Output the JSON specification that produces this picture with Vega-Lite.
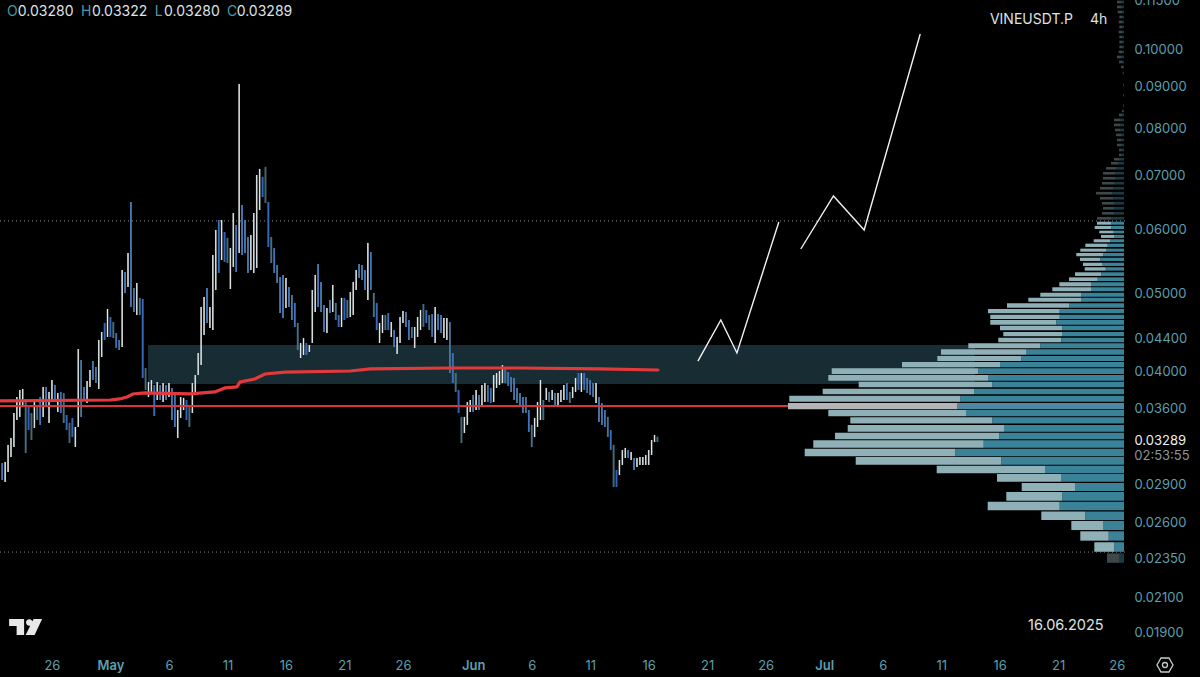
{
"$schema":"https://vega.github.io/schema/vega-lite/v6.json",
"autosize":{"type":"none"},
"padding":{"left":0,"top":0,"right":75,"bottom":29},
"width":1125,
"height":648,
"background":"#000000",
"config":{"view":{"stroke":null},"text":{"font":"Inter"}},
"datasets":{"candles":[
{"t":"2025-04-21T18:00Z","p":0.03083,"p2":0.02937,"d":"d"},
{"t":"2025-04-22T00:00Z","p":0.03092,"p2":0.02921,"d":"u"},
{"t":"2025-04-22T06:00Z","p":0.03246,"p2":0.03005,"d":"u"},
{"t":"2025-04-22T12:00Z","p":0.03311,"p2":0.03136,"d":"u"},
{"t":"2025-04-22T18:00Z","p":0.03555,"p2":0.03227,"d":"u"},
{"t":"2025-04-23T00:00Z","p":0.03721,"p2":0.03485,"d":"u"},
{"t":"2025-04-23T06:00Z","p":0.03796,"p2":0.03515,"d":"u"},
{"t":"2025-04-23T12:00Z","p":0.03807,"p2":0.03616,"d":"u"},
{"t":"2025-04-23T18:00Z","p":0.03689,"p2":0.03172,"d":"d"},
{"t":"2025-04-24T00:00Z","p":0.03616,"p2":0.03387,"d":"d"},
{"t":"2025-04-24T06:00Z","p":0.03555,"p2":0.03292,"d":"d"},
{"t":"2025-04-24T12:00Z","p":0.03668,"p2":0.03407,"d":"u"},
{"t":"2025-04-24T18:00Z","p":0.03616,"p2":0.03485,"d":"d"},
{"t":"2025-04-25T00:00Z","p":0.03721,"p2":0.03436,"d":"d"},
{"t":"2025-04-25T06:00Z","p":0.03829,"p2":0.03515,"d":"u"},
{"t":"2025-04-25T12:00Z","p":0.03829,"p2":0.03616,"d":"d"},
{"t":"2025-04-25T18:00Z","p":0.03775,"p2":0.03456,"d":"u"},
{"t":"2025-04-26T00:00Z","p":0.03905,"p2":0.03689,"d":"u"},
{"t":"2025-04-26T06:00Z","p":0.0385,"p2":0.03668,"d":"d"},
{"t":"2025-04-26T12:00Z","p":0.03764,"p2":0.03565,"d":"u"},
{"t":"2025-04-26T18:00Z","p":0.03775,"p2":0.03555,"d":"d"},
{"t":"2025-04-27T00:00Z","p":0.03764,"p2":0.03456,"d":"d"},
{"t":"2025-04-27T06:00Z","p":0.03535,"p2":0.03387,"d":"d"},
{"t":"2025-04-27T12:00Z","p":0.03456,"p2":0.03264,"d":"d"},
{"t":"2025-04-27T18:00Z","p":0.03505,"p2":0.0332,"d":"d"},
{"t":"2025-04-28T00:00Z","p":0.03416,"p2":0.03227,"d":"u"},
{"t":"2025-04-28T06:00Z","p":0.04266,"p2":0.03416,"d":"u"},
{"t":"2025-04-28T12:00Z","p":0.04134,"p2":0.03515,"d":"d"},
{"t":"2025-04-28T18:00Z","p":0.03829,"p2":0.03689,"d":"d"},
{"t":"2025-04-29T00:00Z","p":0.03894,"p2":0.03658,"d":"u"},
{"t":"2025-04-29T06:00Z","p":0.04018,"p2":0.03829,"d":"u"},
{"t":"2025-04-29T12:00Z","p":0.04122,"p2":0.03905,"d":"d"},
{"t":"2025-04-29T18:00Z","p":0.04053,"p2":0.03872,"d":"d"},
{"t":"2025-04-30T00:00Z","p":0.04377,"p2":0.03807,"d":"u"},
{"t":"2025-04-30T06:00Z","p":0.04478,"p2":0.0417,"d":"u"},
{"t":"2025-04-30T12:00Z","p":0.04594,"p2":0.04377,"d":"d"},
{"t":"2025-04-30T18:00Z","p":0.04781,"p2":0.04415,"d":"u"},
{"t":"2025-05-01T00:00Z","p":0.04673,"p2":0.04415,"d":"d"},
{"t":"2025-05-01T06:00Z","p":0.04607,"p2":0.04402,"d":"d"},
{"t":"2025-05-01T12:00Z","p":0.04465,"p2":0.04279,"d":"d"},
{"t":"2025-05-01T18:00Z","p":0.04377,"p2":0.04254,"d":"d"},
{"t":"2025-05-02T00:00Z","p":0.05343,"p2":0.04291,"d":"u"},
{"t":"2025-05-02T06:00Z","p":0.05313,"p2":0.05005,"d":"d"},
{"t":"2025-05-02T12:00Z","p":0.05608,"p2":0.05091,"d":"u"},
{"t":"2025-05-02T18:00Z","p":0.06485,"p2":0.04808,"d":"d"},
{"t":"2025-05-03T00:00Z","p":0.05076,"p2":0.0474,"d":"d"},
{"t":"2025-05-03T06:00Z","p":0.05149,"p2":0.047,"d":"u"},
{"t":"2025-05-03T12:00Z","p":0.04934,"p2":0.047,"d":"d"},
{"t":"2025-05-03T18:00Z","p":0.04919,"p2":0.03928,"d":"d"},
{"t":"2025-05-04T00:00Z","p":0.04041,"p2":0.03796,"d":"d"},
{"t":"2025-05-04T06:00Z","p":0.03883,"p2":0.03721,"d":"u"},
{"t":"2025-05-04T12:00Z","p":0.03905,"p2":0.03775,"d":"u"},
{"t":"2025-05-04T18:00Z","p":0.0385,"p2":0.03525,"d":"d"},
{"t":"2025-05-05T00:00Z","p":0.03883,"p2":0.03689,"d":"u"},
{"t":"2025-05-05T06:00Z","p":0.0385,"p2":0.03689,"d":"d"},
{"t":"2025-05-05T12:00Z","p":0.03872,"p2":0.03668,"d":"u"},
{"t":"2025-05-05T18:00Z","p":0.0385,"p2":0.03689,"d":"d"},
{"t":"2025-05-06T00:00Z","p":0.03872,"p2":0.03721,"d":"u"},
{"t":"2025-05-06T06:00Z","p":0.03818,"p2":0.03485,"d":"d"},
{"t":"2025-05-06T12:00Z","p":0.03743,"p2":0.03416,"d":"d"},
{"t":"2025-05-06T18:00Z","p":0.03585,"p2":0.03311,"d":"u"},
{"t":"2025-05-07T00:00Z","p":0.03721,"p2":0.03505,"d":"u"},
{"t":"2025-05-07T06:00Z","p":0.03711,"p2":0.03585,"d":"u"},
{"t":"2025-05-07T12:00Z","p":0.03689,"p2":0.03485,"d":"d"},
{"t":"2025-05-07T18:00Z","p":0.03637,"p2":0.03416,"d":"d"},
{"t":"2025-05-08T00:00Z","p":0.03872,"p2":0.03555,"d":"u"},
{"t":"2025-05-08T06:00Z","p":0.03961,"p2":0.03764,"d":"u"},
{"t":"2025-05-08T12:00Z","p":0.04218,"p2":0.03961,"d":"u"},
{"t":"2025-05-08T18:00Z","p":0.04808,"p2":0.04076,"d":"u"},
{"t":"2025-05-09T00:00Z","p":0.04948,"p2":0.0444,"d":"u"},
{"t":"2025-05-09T06:00Z","p":0.05076,"p2":0.04594,"d":"d"},
{"t":"2025-05-09T12:00Z","p":0.04808,"p2":0.04529,"d":"u"},
{"t":"2025-05-09T18:00Z","p":0.05576,"p2":0.04503,"d":"u"},
{"t":"2025-05-10T00:00Z","p":0.05988,"p2":0.05047,"d":"u"},
{"t":"2025-05-10T06:00Z","p":0.06161,"p2":0.05298,"d":"d"},
{"t":"2025-05-10T12:00Z","p":0.06161,"p2":0.05497,"d":"u"},
{"t":"2025-05-10T18:00Z","p":0.05954,"p2":0.05466,"d":"d"},
{"t":"2025-05-11T00:00Z","p":0.05854,"p2":0.05451,"d":"d"},
{"t":"2025-05-11T06:00Z","p":0.05689,"p2":0.05061,"d":"u"},
{"t":"2025-05-11T12:00Z","p":0.06285,"p2":0.05389,"d":"u"},
{"t":"2025-05-11T18:00Z","p":0.06074,"p2":0.05313,"d":"d"},
{"t":"2025-05-12T00:00Z","p":0.09078,"p2":0.05608,"d":"u"},
{"t":"2025-05-12T06:00Z","p":0.0643,"p2":0.05576,"d":"d"},
{"t":"2025-05-12T12:00Z","p":0.06161,"p2":0.05608,"d":"d"},
{"t":"2025-05-12T18:00Z","p":0.0587,"p2":0.05298,"d":"d"},
{"t":"2025-05-13T00:00Z","p":0.05904,"p2":0.05343,"d":"u"},
{"t":"2025-05-13T06:00Z","p":0.06285,"p2":0.05298,"d":"u"},
{"t":"2025-05-13T12:00Z","p":0.07004,"p2":0.05374,"d":"u"},
{"t":"2025-05-13T18:00Z","p":0.07125,"p2":0.06339,"d":"u"},
{"t":"2025-05-14T00:00Z","p":0.06965,"p2":0.06579,"d":"d"},
{"t":"2025-05-14T06:00Z","p":0.07166,"p2":0.06467,"d":"d"},
{"t":"2025-05-14T12:00Z","p":0.06485,"p2":0.05705,"d":"d"},
{"t":"2025-05-14T18:00Z","p":0.0587,"p2":0.05451,"d":"d"},
{"t":"2025-05-15T00:00Z","p":0.05689,"p2":0.05298,"d":"d"},
{"t":"2025-05-15T06:00Z","p":0.0542,"p2":0.05149,"d":"d"},
{"t":"2025-05-15T12:00Z","p":0.05238,"p2":0.04727,"d":"d"},
{"t":"2025-05-15T18:00Z","p":0.05268,"p2":0.0466,"d":"d"},
{"t":"2025-05-16T00:00Z","p":0.05223,"p2":0.04795,"d":"u"},
{"t":"2025-05-16T06:00Z","p":0.05091,"p2":0.04808,"d":"d"},
{"t":"2025-05-16T12:00Z","p":0.04976,"p2":0.04633,"d":"d"},
{"t":"2025-05-16T18:00Z","p":0.04864,"p2":0.04542,"d":"d"},
{"t":"2025-05-17T00:00Z","p":0.04594,"p2":0.04254,"d":"d"},
{"t":"2025-05-17T06:00Z","p":0.0434,"p2":0.04158,"d":"u"},
{"t":"2025-05-17T12:00Z","p":0.04402,"p2":0.04194,"d":"u"},
{"t":"2025-05-17T18:00Z","p":0.0434,"p2":0.04194,"d":"d"},
{"t":"2025-05-18T00:00Z","p":0.04315,"p2":0.0423,"d":"u"},
{"t":"2025-05-18T06:00Z","p":0.05047,"p2":0.0434,"d":"u"},
{"t":"2025-05-18T12:00Z","p":0.05268,"p2":0.0474,"d":"u"},
{"t":"2025-05-18T18:00Z","p":0.05435,"p2":0.04808,"d":"d"},
{"t":"2025-05-19T00:00Z","p":0.05164,"p2":0.0474,"d":"d"},
{"t":"2025-05-19T06:00Z","p":0.04836,"p2":0.04478,"d":"d"},
{"t":"2025-05-19T12:00Z","p":0.04795,"p2":0.04465,"d":"u"},
{"t":"2025-05-19T18:00Z","p":0.04905,"p2":0.04727,"d":"d"},
{"t":"2025-05-20T00:00Z","p":0.0512,"p2":0.0474,"d":"u"},
{"t":"2025-05-20T06:00Z","p":0.04864,"p2":0.04633,"d":"d"},
{"t":"2025-05-20T12:00Z","p":0.047,"p2":0.04542,"d":"d"},
{"t":"2025-05-20T18:00Z","p":0.04934,"p2":0.04542,"d":"u"},
{"t":"2025-05-21T00:00Z","p":0.04934,"p2":0.04633,"d":"d"},
{"t":"2025-05-21T06:00Z","p":0.04905,"p2":0.0466,"d":"d"},
{"t":"2025-05-21T12:00Z","p":0.05019,"p2":0.04673,"d":"u"},
{"t":"2025-05-21T18:00Z","p":0.05164,"p2":0.047,"d":"u"},
{"t":"2025-05-22T00:00Z","p":0.05343,"p2":0.05047,"d":"u"},
{"t":"2025-05-22T06:00Z","p":0.05435,"p2":0.05223,"d":"d"},
{"t":"2025-05-22T12:00Z","p":0.0542,"p2":0.05193,"d":"d"},
{"t":"2025-05-22T18:00Z","p":0.05343,"p2":0.05047,"d":"d"},
{"t":"2025-05-23T00:00Z","p":0.05771,"p2":0.04905,"d":"u"},
{"t":"2025-05-23T06:00Z","p":0.05624,"p2":0.05047,"d":"d"},
{"t":"2025-05-23T12:00Z","p":0.05005,"p2":0.04673,"d":"d"},
{"t":"2025-05-23T18:00Z","p":0.04864,"p2":0.04503,"d":"d"},
{"t":"2025-05-24T00:00Z","p":0.04594,"p2":0.0434,"d":"u"},
{"t":"2025-05-24T06:00Z","p":0.047,"p2":0.04465,"d":"u"},
{"t":"2025-05-24T12:00Z","p":0.047,"p2":0.04503,"d":"d"},
{"t":"2025-05-24T18:00Z","p":0.04727,"p2":0.04503,"d":"d"},
{"t":"2025-05-25T00:00Z","p":0.04607,"p2":0.04415,"d":"u"},
{"t":"2025-05-25T06:00Z","p":0.04503,"p2":0.04291,"d":"d"},
{"t":"2025-05-25T12:00Z","p":0.04415,"p2":0.04206,"d":"u"},
{"t":"2025-05-25T18:00Z","p":0.04673,"p2":0.0434,"d":"u"},
{"t":"2025-05-26T00:00Z","p":0.04754,"p2":0.04594,"d":"u"},
{"t":"2025-05-26T06:00Z","p":0.0474,"p2":0.04542,"d":"d"},
{"t":"2025-05-26T12:00Z","p":0.04633,"p2":0.04377,"d":"d"},
{"t":"2025-05-26T18:00Z","p":0.04542,"p2":0.04402,"d":"d"},
{"t":"2025-05-27T00:00Z","p":0.04542,"p2":0.04279,"d":"u"},
{"t":"2025-05-27T06:00Z","p":0.04673,"p2":0.04415,"d":"u"},
{"t":"2025-05-27T12:00Z","p":0.04767,"p2":0.04503,"d":"u"},
{"t":"2025-05-27T18:00Z","p":0.0485,"p2":0.04542,"d":"d"},
{"t":"2025-05-28T00:00Z","p":0.04767,"p2":0.04594,"d":"d"},
{"t":"2025-05-28T06:00Z","p":0.047,"p2":0.04503,"d":"d"},
{"t":"2025-05-28T12:00Z","p":0.04713,"p2":0.04415,"d":"d"},
{"t":"2025-05-28T18:00Z","p":0.04808,"p2":0.0434,"d":"u"},
{"t":"2025-05-29T00:00Z","p":0.04713,"p2":0.04503,"d":"d"},
{"t":"2025-05-29T06:00Z","p":0.047,"p2":0.04465,"d":"d"},
{"t":"2025-05-29T12:00Z","p":0.0466,"p2":0.04402,"d":"u"},
{"t":"2025-05-29T18:00Z","p":0.0466,"p2":0.04377,"d":"u"},
{"t":"2025-05-30T00:00Z","p":0.04607,"p2":0.03984,"d":"d"},
{"t":"2025-05-30T06:00Z","p":0.04218,"p2":0.03872,"d":"d"},
{"t":"2025-05-30T12:00Z","p":0.03984,"p2":0.03775,"d":"d"},
{"t":"2025-05-30T18:00Z","p":0.03796,"p2":0.03555,"d":"d"},
{"t":"2025-05-31T00:00Z","p":0.03515,"p2":0.03264,"d":"d"},
{"t":"2025-05-31T06:00Z","p":0.03515,"p2":0.03358,"d":"u"},
{"t":"2025-05-31T12:00Z","p":0.03668,"p2":0.03436,"d":"u"},
{"t":"2025-05-31T18:00Z","p":0.03689,"p2":0.03565,"d":"u"},
{"t":"2025-06-01T00:00Z","p":0.03743,"p2":0.03565,"d":"d"},
{"t":"2025-06-01T06:00Z","p":0.03796,"p2":0.03585,"d":"u"},
{"t":"2025-06-01T12:00Z","p":0.03743,"p2":0.03585,"d":"d"},
{"t":"2025-06-01T18:00Z","p":0.0385,"p2":0.03637,"d":"u"},
{"t":"2025-06-02T00:00Z","p":0.03872,"p2":0.03668,"d":"u"},
{"t":"2025-06-02T06:00Z","p":0.0385,"p2":0.03668,"d":"d"},
{"t":"2025-06-02T12:00Z","p":0.03818,"p2":0.03658,"d":"d"},
{"t":"2025-06-02T18:00Z","p":0.03961,"p2":0.03668,"d":"u"},
{"t":"2025-06-03T00:00Z","p":0.03984,"p2":0.03818,"d":"u"},
{"t":"2025-06-03T06:00Z","p":0.04007,"p2":0.0385,"d":"u"},
{"t":"2025-06-03T12:00Z","p":0.04076,"p2":0.03872,"d":"u"},
{"t":"2025-06-03T18:00Z","p":0.04041,"p2":0.03872,"d":"d"},
{"t":"2025-06-04T00:00Z","p":0.03995,"p2":0.0384,"d":"d"},
{"t":"2025-06-04T06:00Z","p":0.03939,"p2":0.03775,"d":"d"},
{"t":"2025-06-04T12:00Z","p":0.03928,"p2":0.03689,"d":"d"},
{"t":"2025-06-04T18:00Z","p":0.03818,"p2":0.03658,"d":"d"},
{"t":"2025-06-05T00:00Z","p":0.03764,"p2":0.03637,"d":"d"},
{"t":"2025-06-05T06:00Z","p":0.03721,"p2":0.03555,"d":"d"},
{"t":"2025-06-05T12:00Z","p":0.03721,"p2":0.03555,"d":"d"},
{"t":"2025-06-05T18:00Z","p":0.03585,"p2":0.03368,"d":"d"},
{"t":"2025-06-06T00:00Z","p":0.03436,"p2":0.03227,"d":"d"},
{"t":"2025-06-06T06:00Z","p":0.03505,"p2":0.0332,"d":"u"},
{"t":"2025-06-06T12:00Z","p":0.03668,"p2":0.03416,"d":"u"},
{"t":"2025-06-06T18:00Z","p":0.03905,"p2":0.03485,"d":"u"},
{"t":"2025-06-07T00:00Z","p":0.03689,"p2":0.03485,"d":"d"},
{"t":"2025-06-07T06:00Z","p":0.03818,"p2":0.03689,"d":"u"},
{"t":"2025-06-07T12:00Z","p":0.03775,"p2":0.03668,"d":"d"},
{"t":"2025-06-07T18:00Z","p":0.03796,"p2":0.03689,"d":"u"},
{"t":"2025-06-08T00:00Z","p":0.03764,"p2":0.03637,"d":"d"},
{"t":"2025-06-08T06:00Z","p":0.03764,"p2":0.03637,"d":"u"},
{"t":"2025-06-08T12:00Z","p":0.03796,"p2":0.03668,"d":"u"},
{"t":"2025-06-08T18:00Z","p":0.0385,"p2":0.03689,"d":"u"},
{"t":"2025-06-09T00:00Z","p":0.03872,"p2":0.03689,"d":"d"},
{"t":"2025-06-09T06:00Z","p":0.03775,"p2":0.03658,"d":"d"},
{"t":"2025-06-09T12:00Z","p":0.03829,"p2":0.03711,"d":"u"},
{"t":"2025-06-09T18:00Z","p":0.03928,"p2":0.03775,"d":"u"},
{"t":"2025-06-10T00:00Z","p":0.03984,"p2":0.03796,"d":"d"},
{"t":"2025-06-10T06:00Z","p":0.03984,"p2":0.03775,"d":"u"},
{"t":"2025-06-10T12:00Z","p":0.03984,"p2":0.03796,"d":"d"},
{"t":"2025-06-10T18:00Z","p":0.03928,"p2":0.03764,"d":"d"},
{"t":"2025-06-11T00:00Z","p":0.03905,"p2":0.03743,"d":"d"},
{"t":"2025-06-11T06:00Z","p":0.03872,"p2":0.03721,"d":"d"},
{"t":"2025-06-11T12:00Z","p":0.03872,"p2":0.03658,"d":"u"},
{"t":"2025-06-11T18:00Z","p":0.03721,"p2":0.03465,"d":"d"},
{"t":"2025-06-12T00:00Z","p":0.03658,"p2":0.03436,"d":"d"},
{"t":"2025-06-12T06:00Z","p":0.03585,"p2":0.03416,"d":"d"},
{"t":"2025-06-12T12:00Z","p":0.03515,"p2":0.0332,"d":"d"},
{"t":"2025-06-12T18:00Z","p":0.03387,"p2":0.03199,"d":"d"},
{"t":"2025-06-13T00:00Z","p":0.03246,"p2":0.0288,"d":"d"},
{"t":"2025-06-13T06:00Z","p":0.03022,"p2":0.0288,"d":"d"},
{"t":"2025-06-13T12:00Z","p":0.03109,"p2":0.02979,"d":"u"},
{"t":"2025-06-13T18:00Z","p":0.03199,"p2":0.03066,"d":"u"},
{"t":"2025-06-14T00:00Z","p":0.03218,"p2":0.03127,"d":"u"},
{"t":"2025-06-14T06:00Z","p":0.03199,"p2":0.03127,"d":"d"},
{"t":"2025-06-14T12:00Z","p":0.03181,"p2":0.03109,"d":"u"},
{"t":"2025-06-14T18:00Z","p":0.03127,"p2":0.03022,"d":"d"},
{"t":"2025-06-15T00:00Z","p":0.03127,"p2":0.03048,"d":"u"},
{"t":"2025-06-15T06:00Z","p":0.03136,"p2":0.03066,"d":"u"},
{"t":"2025-06-15T12:00Z","p":0.03136,"p2":0.03066,"d":"u"},
{"t":"2025-06-15T18:00Z","p":0.03154,"p2":0.03066,"d":"u"},
{"t":"2025-06-16T00:00Z","p":0.03199,"p2":0.03066,"d":"u"},
{"t":"2025-06-16T06:00Z","p":0.03292,"p2":0.03154,"d":"u"},
{"t":"2025-06-16T12:00Z","p":0.03339,"p2":0.03273,"d":"u"},
{"t":"2025-06-16T18:00Z","p":0.03322,"p2":0.03273,"d":"d"}
]},
"resolve":{"scale":{"x":"independent"}},
"encoding":{"y":{"field":"p","type":"quantitative","scale":{"type":"log","nice":false,"zero":false,"domain":[0.0182,0.1153]},
"axis":{"title":null,"orient":"right","grid":false,"domain":false,"ticks":false,"labelPadding":9,"format":".5f","labelFont":"Inter","labelFontSize":13,"labelOverlap":false,"labelFlush":false,"labelBound":false,
"labelColor":{"condition":{"test":"datum.value==0.03289","value":"#f0f0f0"},"value":"#5d9fae"},
"values":[0.115,0.1,0.09,0.08,0.07,0.06,0.05,0.044,0.04,0.036,0.03289,0.029,0.026,0.0235,0.021,0.019]}}},
"layer":[
{
"encoding":{"x":{"field":"t","type":"temporal","scale":{"type":"utc","nice":false,"domain":[{"year":2025,"month":"apr","date":21,"hours":13,"minutes":27,"utc":true},{"year":2025,"month":"jul","date":26,"hours":17,"utc":true}]},
"axis":{"title":null,"orient":"bottom","grid":false,"domain":false,"ticks":false,"labelPadding":11,"labelFont":"Inter","labelFontSize":13,"labelColor":"#5d9fae","labelOverlap":false,"labelFlush":false,"labelBound":false,
"labelFontWeight":{"condition":{"test":"utcdate(datum.value)===1","value":600},"value":400},
"labelExpr":"utcdate(datum.value)===1?utcFormat(datum.value,'%b'):utcFormat(datum.value,'%-d')",
"values":[
{"year":2025,"month":"apr","date":26,"utc":true},{"year":2025,"month":"may","date":1,"utc":true},{"year":2025,"month":"may","date":6,"utc":true},{"year":2025,"month":"may","date":11,"utc":true},{"year":2025,"month":"may","date":16,"utc":true},{"year":2025,"month":"may","date":21,"utc":true},{"year":2025,"month":"may","date":26,"utc":true},{"year":2025,"month":"jun","date":1,"utc":true},{"year":2025,"month":"jun","date":6,"utc":true},{"year":2025,"month":"jun","date":11,"utc":true},{"year":2025,"month":"jun","date":16,"utc":true},{"year":2025,"month":"jun","date":21,"utc":true},{"year":2025,"month":"jun","date":26,"utc":true},{"year":2025,"month":"jul","date":1,"utc":true},{"year":2025,"month":"jul","date":6,"utc":true},{"year":2025,"month":"jul","date":11,"utc":true},{"year":2025,"month":"jul","date":16,"utc":true},{"year":2025,"month":"jul","date":21,"utc":true},{"year":2025,"month":"jul","date":26,"utc":true}]}}},
"layer":[
{"data":{"values":[{"t":"2025-05-04T05:00Z","t2":"2025-07-13T21:00Z","p":0.04315,"p2":0.03861}],"format":{"parse":{"t":"date","t2":"date"}}},
"mark":{"type":"rect","color":"#172c33"},
"encoding":{"x2":{"field":"t2"},"y2":{"field":"p2"}}},
{"data":{"values":[
{"t":"2025-04-21T13:27Z","p":0.06144,"g":"upper"},{"t":"2025-07-26T17:00Z","p":0.06144,"g":"upper"},
{"t":"2025-04-21T13:27Z","p":0.02392,"g":"lower"},{"t":"2025-07-26T17:00Z","p":0.02392,"g":"lower"}]},
"mark":{"type":"line","color":"#8a8a8a","strokeWidth":1,"strokeDash":[1,3]},
"encoding":{"detail":{"field":"g"}}},
{"data":{"name":"candles"},
"mark":{"type":"rule","strokeWidth":1.6},
"encoding":{"y2":{"field":"p2"},
"color":{"condition":{"test":"datum.d==='u'","value":"#9aa6a9"},"value":"#6aa6b5"}}},
{"data":{"name":"candles"},
"mark":{"type":"rule","strokeWidth":1},
"encoding":{"y2":{"field":"p2"},
"color":{"condition":{"test":"datum.d==='u'","value":"#e6e9e9"},"value":"#3361b8"}}},
{"data":{"values":[{"t":"2025-04-21T13:27Z","p":0.03627},{"t":"2025-06-27T22:00Z","p":0.03627}]},
"mark":{"type":"line","color":"#d93636","strokeWidth":2}},
{"data":{"values":[
{"t":"2025-04-21T13:27Z","p":0.03679},{"t":"2025-05-01T00:00Z","p":0.03689},{"t":"2025-05-01T19:00Z","p":0.037},{"t":"2025-05-02T10:00Z","p":0.03721},{"t":"2025-05-02T22:00Z","p":0.03753},{"t":"2025-05-03T22:00Z","p":0.03764},{"t":"2025-05-07T19:00Z","p":0.03753},{"t":"2025-05-09T22:00Z","p":0.03775},{"t":"2025-05-10T19:00Z","p":0.03818},{"t":"2025-05-11T19:00Z","p":0.03829},{"t":"2025-05-12T02:00Z","p":0.03883},{"t":"2025-05-13T08:00Z","p":0.03916},{"t":"2025-05-14T05:00Z","p":0.03973},{"t":"2025-05-15T22:00Z","p":0.03995},{"t":"2025-05-21T12:00Z","p":0.04007},{"t":"2025-05-23T05:00Z","p":0.0403},{"t":"2025-05-30T00:00Z","p":0.04041},{"t":"2025-06-05T00:00Z","p":0.04041},{"t":"2025-06-11T19:00Z","p":0.0403},{"t":"2025-06-16T19:00Z","p":0.04018}]},
"mark":{"type":"line","color":"#e23a3c","strokeWidth":3.2,"strokeCap":"round"}},
{"data":{"values":[
{"t":"2025-06-20T05:00Z","p":0.04122,"leg":"first"},{"t":"2025-06-22T04:00Z","p":0.04633,"leg":"first"},{"t":"2025-06-23T13:00Z","p":0.04218,"leg":"first"},{"t":"2025-06-27T03:00Z","p":0.06127,"leg":"first"},
{"t":"2025-06-29T00:00Z","p":0.05672,"leg":"second"},{"t":"2025-07-01T19:00Z","p":0.06598,"leg":"second"},{"t":"2025-07-04T10:00Z","p":0.05988,"leg":"second"},{"t":"2025-07-09T05:00Z","p":0.10466,"leg":"second"}]},
"mark":{"type":"line","color":"#f0f0f0","strokeWidth":1.4},
"encoding":{"detail":{"field":"leg"}}},
{"data":{"values":[
{"t":"2025-04-22T03:40Z","p":0.11143,"label":"O","kind":"letter","size":14},
{"t":"2025-04-23T02:00Z","p":0.11143,"label":"0.03280","kind":"value","size":14},
{"t":"2025-04-28T11:30Z","p":0.11143,"label":"H","kind":"letter","size":14},
{"t":"2025-04-29T10:00Z","p":0.11143,"label":"0.03322","kind":"value","size":14},
{"t":"2025-05-04T19:00Z","p":0.11143,"label":"L","kind":"letter","size":14},
{"t":"2025-05-05T14:00Z","p":0.11143,"label":"0.03280","kind":"value","size":14},
{"t":"2025-05-10T23:00Z","p":0.11143,"label":"C","kind":"letter","size":14},
{"t":"2025-05-11T19:00Z","p":0.11143,"label":"0.03289","kind":"value","size":14},
{"t":"2025-07-15T04:00Z","p":0.10892,"label":"VINEUSDT.P","kind":"value","size":14},
{"t":"2025-07-23T17:00Z","p":0.10892,"label":"4h","kind":"value","size":14},
{"t":"2025-07-18T10:00Z","p":0.01938,"label":"16.06.2025","kind":"value","size":14.5},
{"t":"2025-07-27T12:00Z","p":0.03145,"label":"02:53:55","kind":"clock","size":13}]},
"mark":{"type":"text","align":"left","baseline":"middle","font":"Inter"},
"encoding":{"text":{"field":"label"},
"size":{"field":"size","type":"quantitative","scale":null,"legend":null},
"color":{"condition":[{"test":"datum.kind==='letter'","value":"#4f97a8"},{"test":"datum.kind==='clock'","value":"#8a9599"}],"value":"#dfe3e4"}}},
{"data":{"values":[{"t":"2025-04-23T18:00Z","p":0.01932}]},
"mark":{"type":"point","filled":true,"opacity":1,"size":4,"color":"#e8e8e8","strokeWidth":0,"shape":"M-16.5 -8 H-1.5 V8 H-9 V-1 H-16.5 Z M8 -8 H16.5 L9 8 H0 Z M7 -4.5 A3.3 3.3 0 1 1 0.4 -4.5 A3.3 3.3 0 1 1 7 -4.5 Z"}},
{"data":{"values":[{"t":"2025-07-30T03:00Z","p":0.01734}]},
"mark":{"type":"point","filled":false,"opacity":1,"size":4,"color":"#c8cccd","strokeWidth":1.3,"shape":"M-8 0 L-4 -7 L4 -7 L8 0 L4 7 L-4 7 Z M2.5 0 A2.5 2.5 0 1 1 -2.5 0 A2.5 2.5 0 1 1 2.5 0 Z"}}
]
},
{
"data":{"values":[
{"p":0.02383,"p2":0.0232,"buy":5,"total":17,"zone":"out"},
{"p":0.0246,"p2":0.02394,"buy":9.7,"total":29.7,"zone":"area"},
{"p":0.02538,"p2":0.02471,"buy":15.3,"total":43.7,"zone":"area"},
{"p":0.02614,"p2":0.02547,"buy":21,"total":52.7,"zone":"area"},
{"p":0.02686,"p2":0.02621,"buy":38.7,"total":82.7,"zone":"area"},
{"p":0.02761,"p2":0.02694,"buy":64.3,"total":136.3,"zone":"area"},
{"p":0.02839,"p2":0.02769,"buy":61.7,"total":117.7,"zone":"area"},
{"p":0.02912,"p2":0.02847,"buy":49,"total":102.3,"zone":"area"},
{"p":0.02988,"p2":0.02923,"buy":63,"total":127,"zone":"area"},
{"p":0.03059,"p2":0.02994,"buy":79,"total":187.3,"zone":"area"},
{"p":0.03136,"p2":0.03068,"buy":122.7,"total":268.3,"zone":"area"},
{"p":0.03211,"p2":0.03142,"buy":168.7,"total":319.3,"zone":"area"},
{"p":0.03289,"p2":0.0322,"buy":140.3,"total":310.7,"zone":"area"},
{"p":0.03361,"p2":0.03299,"buy":124.7,"total":289,"zone":"area"},
{"p":0.03436,"p2":0.0337,"buy":120,"total":276.3,"zone":"area"},
{"p":0.03512,"p2":0.03449,"buy":131.7,"total":273.7,"zone":"area"},
{"p":0.03585,"p2":0.03522,"buy":158,"total":295.7,"zone":"area"},
{"p":0.03658,"p2":0.03593,"buy":167,"total":336,"zone":"poc"},
{"p":0.03735,"p2":0.03671,"buy":163.7,"total":334.7,"zone":"area"},
{"p":0.0381,"p2":0.0375,"buy":150,"total":301.3,"zone":"area"},
{"p":0.03886,"p2":0.03826,"buy":131.7,"total":265.3,"zone":"area"},
{"p":0.03961,"p2":0.03897,"buy":136,"total":295.7,"zone":"area"},
{"p":0.04038,"p2":0.03973,"buy":145.7,"total":292.3,"zone":"area"},
{"p":0.04111,"p2":0.0405,"buy":124,"total":222,"zone":"area"},
{"p":0.04182,"p2":0.04122,"buy":102.7,"total":186.7,"zone":"area"},
{"p":0.04262,"p2":0.04198,"buy":98,"total":183,"zone":"area"},
{"p":0.04336,"p2":0.04275,"buy":83.7,"total":155.7,"zone":"area"},
{"p":0.04406,"p2":0.04348,"buy":62.7,"total":125.7,"zone":"area"},
{"p":0.04478,"p2":0.04424,"buy":62,"total":120.7,"zone":"area"},
{"p":0.04559,"p2":0.04499,"buy":61.7,"total":124,"zone":"area"},
{"p":0.04633,"p2":0.04572,"buy":67.7,"total":133.7,"zone":"area"},
{"p":0.04704,"p2":0.04646,"buy":64.3,"total":133.7,"zone":"area"},
{"p":0.04781,"p2":0.04723,"buy":64.3,"total":136,"zone":"area"},
{"p":0.0486,"p2":0.04799,"buy":54.7,"total":117,"zone":"area"},
{"p":0.04938,"p2":0.04881,"buy":43,"total":95.7,"zone":"area"},
{"p":0.05009,"p2":0.04952,"buy":42.7,"total":83.7,"zone":"area"},
{"p":0.05087,"p2":0.05028,"buy":33,"total":71.7,"zone":"area"},
{"p":0.0516,"p2":0.051,"buy":33,"total":64.7,"zone":"area"},
{"p":0.05232,"p2":0.05178,"buy":26.3,"total":55,"zone":"area"},
{"p":0.05308,"p2":0.05253,"buy":22.7,"total":49,"zone":"area"},
{"p":0.05385,"p2":0.05333,"buy":18.3,"total":39.3,"zone":"area"},
{"p":0.05455,"p2":0.05404,"buy":22,"total":41,"zone":"area"},
{"p":0.05533,"p2":0.05482,"buy":23.7,"total":44,"zone":"area"},
{"p":0.05608,"p2":0.05556,"buy":20.7,"total":47.7,"zone":"area"},
{"p":0.05678,"p2":0.05629,"buy":17.7,"total":43.7,"zone":"area"},
{"p":0.05759,"p2":0.05705,"buy":16.3,"total":38.7,"zone":"area"},
{"p":0.05832,"p2":0.05782,"buy":13.7,"total":30.3,"zone":"area"},
{"p":0.05904,"p2":0.05854,"buy":10,"total":23,"zone":"area"},
{"p":0.05976,"p2":0.05931,"buy":10.3,"total":24.7,"zone":"area"},
{"p":0.06057,"p2":0.06005,"buy":12.7,"total":29.3,"zone":"area"},
{"p":0.06131,"p2":0.06079,"buy":12.7,"total":27,"zone":"area"},
{"p":0.06213,"p2":0.06167,"buy":13,"total":27,"zone":"out"},
{"p":0.06302,"p2":0.06256,"buy":10,"total":22,"zone":"out"},
{"p":0.06394,"p2":0.06346,"buy":10,"total":21,"zone":"out"},
{"p":0.06485,"p2":0.06437,"buy":10,"total":22,"zone":"out"},
{"p":0.06578,"p2":0.0653,"buy":11,"total":24,"zone":"out"},
{"p":0.06674,"p2":0.06624,"buy":12,"total":28,"zone":"out"},
{"p":0.06769,"p2":0.06719,"buy":11,"total":24,"zone":"out"},
{"p":0.06866,"p2":0.06816,"buy":10,"total":22,"zone":"out"},
{"p":0.06965,"p2":0.06913,"buy":9,"total":21,"zone":"out"},
{"p":0.07064,"p2":0.07012,"buy":9,"total":21,"zone":"out"},
{"p":0.07164,"p2":0.07112,"buy":8,"total":18,"zone":"out"},
{"p":0.07269,"p2":0.07215,"buy":6,"total":13,"zone":"out"},
{"p":0.07352,"p2":0.07298,"buy":5,"total":10,"zone":"out"},
{"p":0.07443,"p2":0.07389,"buy":3,"total":5,"zone":"out"},
{"p":0.07549,"p2":0.07493,"buy":3,"total":5,"zone":"out"},
{"p":0.07657,"p2":0.07601,"buy":3,"total":7,"zone":"out"},
{"p":0.07767,"p2":0.07709,"buy":3,"total":7,"zone":"out"},
{"p":0.07879,"p2":0.07821,"buy":3,"total":8,"zone":"out"},
{"p":0.07991,"p2":0.07933,"buy":4,"total":9,"zone":"out"},
{"p":0.08107,"p2":0.08047,"buy":4,"total":10,"zone":"out"},
{"p":0.08222,"p2":0.08162,"buy":4,"total":10,"zone":"out"},
{"p":0.08342,"p2":0.0828,"buy":2,"total":5,"zone":"out"},
{"p":0.08436,"p2":0.08374,"buy":1,"total":2,"zone":"out"},
{"p":0.08558,"p2":0.08494,"buy":0.5,"total":1,"zone":"out"},
{"p":0.08823,"p2":0.08759,"buy":0.5,"total":1,"zone":"out"},
{"p":0.09084,"p2":0.09018,"buy":0.5,"total":1,"zone":"out"},
{"p":0.09401,"p2":0.09331,"buy":0.5,"total":1.3,"zone":"out"},
{"p":0.09563,"p2":0.09493,"buy":1,"total":3,"zone":"out"},
{"p":0.097,"p2":0.09628,"buy":2,"total":5,"zone":"out"},
{"p":0.09839,"p2":0.09767,"buy":3,"total":7,"zone":"out"},
{"p":0.09981,"p2":0.09907,"buy":2,"total":5.3,"zone":"out"},
{"p":0.10123,"p2":0.10049,"buy":2,"total":4.7,"zone":"out"},
{"p":0.10269,"p2":0.10193,"buy":2,"total":4.7,"zone":"out"},
{"p":0.10416,"p2":0.1034,"buy":2,"total":4.7,"zone":"out"},
{"p":0.10565,"p2":0.10487,"buy":2,"total":5.3,"zone":"out"},
{"p":0.10718,"p2":0.10638,"buy":2,"total":4.7,"zone":"out"},
{"p":0.1087,"p2":0.1079,"buy":2,"total":5.3,"zone":"out"},
{"p":0.11026,"p2":0.10944,"buy":2,"total":4.7,"zone":"out"},
{"p":0.11184,"p2":0.11102,"buy":2,"total":6.3,"zone":"out"},
{"p":0.11345,"p2":0.11261,"buy":3,"total":7,"zone":"out"},
{"p":0.11507,"p2":0.11423,"buy":3,"total":7,"zone":"out"}
]},
"encoding":{"y2":{"field":"p2"}},
"layer":[
{"mark":{"type":"rect"},
"encoding":{"x":{"field":"buy","type":"quantitative","axis":null,"scale":{"domain":[1124,-1],"nice":false,"zero":false}},"x2":{"datum":0},
"color":{"condition":[{"test":"datum.zone==='out'","value":"#1a3a44"},{"test":"datum.zone==='poc'","value":"#4e88a0"}],"value":"#3a8298"}}},
{"mark":{"type":"rect"},
"encoding":{"x":{"field":"total","type":"quantitative","axis":null},"x2":{"field":"buy"},
"color":{"condition":[{"test":"datum.zone==='out'","value":"#3e4749"},{"test":"datum.zone==='poc'","value":"#b3b4b8"}],"value":"#8fb0b6"}}}
]
}
]
}
